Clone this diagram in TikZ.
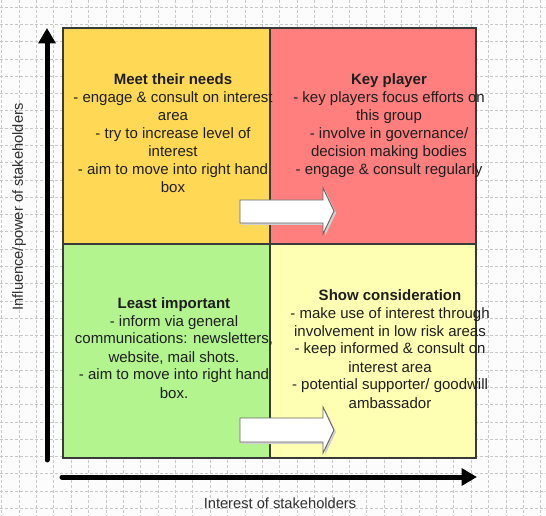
\documentclass[tikz,border=0pt]{standalone}
\usepackage{fontspec}
\setmainfont{Liberation Sans}
\usetikzlibrary{arrows.meta}
\definecolor{bg}{HTML}{FCFCFC}
\definecolor{gridc}{HTML}{C8C8C8}
\definecolor{meetc}{HTML}{FFD955}
\definecolor{keyc}{HTML}{FF7F7F}
\definecolor{leastc}{HTML}{B3F48F}
\definecolor{showc}{HTML}{FFFFB3}
\definecolor{edgec}{HTML}{3A3A3A}
\definecolor{txtc}{HTML}{1E1E1E}
\tikzset{
  gridline/.style={gridc, line width=0.75pt, dash pattern=on 2.25pt off 1.5pt},
  quad/.style={draw=edgec, line width=0.9pt},
  quadtext/.style={anchor=base, align=center, inner sep=0pt, text=txtc,
    font=\fontsize{11.25}{13.5}\selectfont},
  axis/.style={line width=3.75pt, line cap=round, -{Triangle[length=11.5pt,width=12.5pt]}},
  axislabel/.style={inner sep=0pt, text=txtc!80!gray, font=\fontsize{11}{13}\selectfont},
  blockarrow/.style={draw=gray!80!black, line width=0.7pt, fill=white, line join=miter},
  blockshadow/.style={fill=black!18, draw=none}
}
\begin{document}
\begin{tikzpicture}[x=0.75pt, y=-0.75pt]
\useasboundingbox (0,0) rectangle (546,516);
\fill[bg] (0,0) rectangle (546,516);
\foreach \i in {0,...,31} \draw[gridline] ({1.7+17.39*\i},0) -- ({1.7+17.39*\i},516);
\foreach \j in {0,...,29} \draw[gridline] (0,{7.3+17.28*\j}) -- (546,{7.3+17.28*\j});
% quadrants
\filldraw[quad, fill=meetc] (63,28) rectangle (270,244);
\filldraw[quad, fill=keyc] (270,28) rectangle (476,244);
\filldraw[quad, fill=leastc] (63,244) rectangle (270,458);
\filldraw[quad, fill=showc] (270,244) rectangle (476,458);
% texts (anchored at the baseline of the last line)
\node[quadtext] (meet) at (173,193) {\textbf{Meet their needs}\\- engage \& consult on interest\\area\\- try to increase level of\\interest\\- aim to move into right hand\\box};
\node[quadtext] (key) at (389,175) {\textbf{Key player}\\- key players focus efforts on\\this group\\- involve in governance/\\decision making bodies\\- engage \& consult regularly};
\node[quadtext] (least) at (174,398) {\textbf{Least important}\\- inform via general\\communications: newsletters,\\website, mail shots.\\- aim to move into right hand\\box.};
\node[quadtext] (show) at (390,408) {\textbf{Show consideration}\\- make use of interest through\\involvement in low risk areas\\- keep informed \& consult on\\interest area\\- potential supporter/ goodwill\\ambassador};
% block arrows
\fill[blockshadow] (242,202) -- (325,202) -- (325,190) -- (336,213) -- (325,236) -- (325,225) -- (242,225) -- cycle;
\filldraw[blockarrow] (240,200) -- (323,200) -- (323,188) -- (334,211) -- (323,234) -- (323,223) -- (240,223) -- cycle;
\fill[blockshadow] (242,420) -- (325,420) -- (325,409) -- (336,432) -- (325,455) -- (325,444) -- (242,444) -- cycle;
\filldraw[blockarrow] (240,418) -- (323,418) -- (323,407) -- (334,430) -- (323,453) -- (323,442) -- (240,442) -- cycle;
% axes
\coordinate (vbot) at (47,460);
\coordinate (vtop) at (47,28);
\coordinate (hleft) at (62,477);
\coordinate (hright) at (477,477);
\draw[axis] (vbot) -- (vtop);
\draw[axis] (hleft) -- (hright);
\node[axislabel, anchor=base] (xlab) at (280,508) {Interest of stakeholders};
\node[axislabel, rotate=90] (ylab) at (19,207) {Influence/power of stakeholders};
\end{tikzpicture}
\end{document}
